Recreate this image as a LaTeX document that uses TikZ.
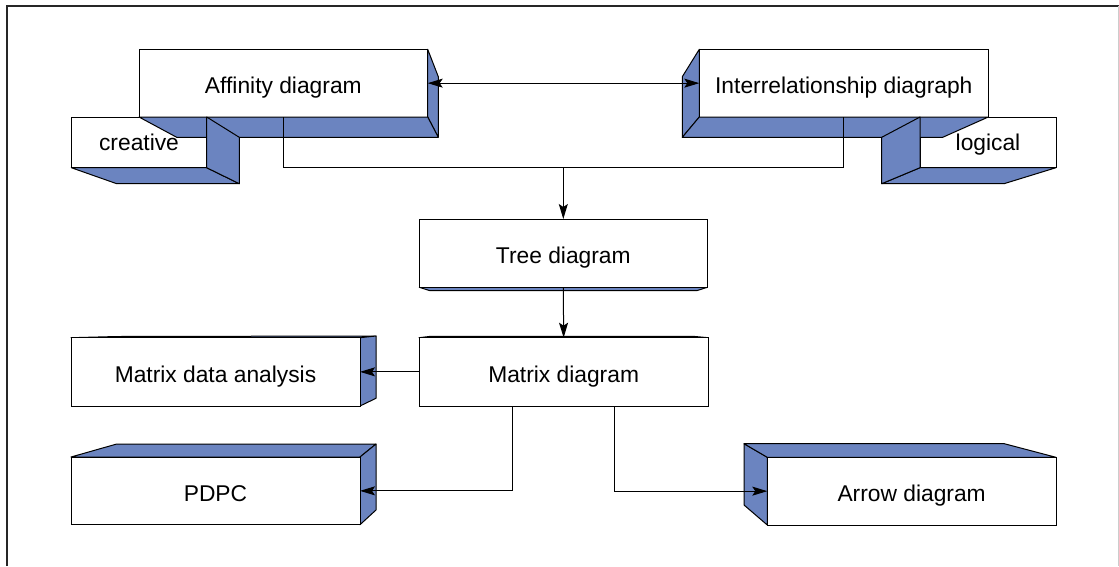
\documentclass[tikz,border=0pt]{standalone}
\usepackage{fontspec}
\setmainfont{Liberation Sans}
\usetikzlibrary{arrows.meta}
\definecolor{faceblue}{RGB}{107,132,192}
\begin{document}
\begin{tikzpicture}[x=1pt,y=-1pt,
  face/.style={fill=faceblue,draw=black,line width=1pt,line join=round},
  frontbox/.style={draw=black,fill=white,line width=1pt,inner sep=0pt,outer sep=0pt,font=\fontsize{22.8}{26}\selectfont,text height=20.4pt,text depth=0pt},
  smallbox/.style={frontbox,text height=15.4pt},
  conn/.style={line width=1pt},
  headarrow/.style={-{Stealth[length=15pt,width=9pt,inset=3pt]}},
  dblhead/.style={{Stealth[length=15pt,width=9pt,inset=3pt]}-{Stealth[length=15pt,width=9pt,inset=3pt]}}
]
\useasboundingbox (0,0) rectangle (1119,566);
% frame
\draw[line width=2pt, black!85] (6.5,566) -- (6.5,5.5) -- (1119,5.5);
\draw[line width=1pt, black!20] (1118.5,5.5) -- (1118.5,566);

% creative (behind affinity)
\node[smallbox, minimum width=135.4pt, minimum height=50.7pt] (cre) at (139,142.35) {creative};
\draw[face] (71.3,167.7) -- (116.7,183.7) -- (239.3,183.7) -- (206.7,167.7) -- cycle;
% affinity
\node[frontbox, minimum width=288.7pt, minimum height=67.7pt] (aff) at (283.35,83.15) {Affinity diagram};
\draw[face] (427.7,49.3) -- (438.3,76.7) -- (438.3,137.3) -- (427.7,117) -- cycle;
\draw[face] (139,117) -- (176.7,137.3) -- (438.3,137.3) -- (427.7,117) -- cycle;
\draw[face] (206.7,117) -- (239.3,137.3) -- (239.3,183.7) -- (206.7,167.7) -- cycle;

% logical (behind interrelationship)
\node[smallbox, minimum width=136pt, minimum height=50.7pt] (log) at (988,142.35) {logical};
\draw[face] (920,167.7) -- (881.7,183.7) -- (1004,183.7) -- (1056,167.7) -- cycle;
% interrelationship
\node[frontbox, minimum width=289pt, minimum height=67.7pt] (inter) at (843.8,83.15) {Interrelationship diagraph};
\draw[face] (699.3,49.3) -- (682.3,76.7) -- (682.3,137.3) -- (699.3,117) -- cycle;
\draw[face] (699.3,117) -- (682.3,137.3) -- (942.7,137.3) -- (988.3,117) -- cycle;
\draw[face] (920,117) -- (881.7,137.3) -- (881.7,183.7) -- (920,167.7) -- cycle;

% tree
\draw[face] (419.3,287.3) -- (430,290.7) -- (696.7,290.7) -- (707.3,287.3) -- cycle;
\node[frontbox, minimum width=288pt, minimum height=68.3pt] (tree) at (563.3,253.15) {Tree diagram};

% matrix
\draw[face] (419,337.7) -- (430,336.4) -- (694,336.4) -- (708.3,337.7) -- cycle;
\node[frontbox, minimum width=289.3pt, minimum height=68.3pt] (mat) at (563.65,371.85) {Matrix diagram};

% matrix data analysis
\draw[face] (71,337.7) -- (116.7,336.5) -- (376,336) -- (360,337.7) -- cycle;
\draw[face] (360,337.7) -- (376,336) -- (376,398.3) -- (360,406) -- cycle;
\node[frontbox, minimum width=289pt, minimum height=68.3pt] (mda) at (215.5,371.85) {Matrix data analysis};

% PDPC
\draw[face] (71,457) -- (116.7,444) -- (376,444) -- (360,457) -- cycle;
\draw[face] (360,457) -- (376,444) -- (376,510) -- (360,524.7) -- cycle;
\node[frontbox, minimum width=289pt, minimum height=67.7pt] (pdpc) at (215.5,490.85) {PDPC};

% arrow diagram
\draw[face] (767.3,457.3) -- (744,443.7) -- (744,505) -- (767.3,525) -- cycle;
\draw[face] (767.3,457.3) -- (744,443.7) -- (1004.3,443.7) -- (1056,457.3) -- cycle;
\node[frontbox, minimum width=288.7pt, minimum height=67.7pt] (arrd) at (911.65,491.15) {Arrow diagram};

% connectors
\coordinate (jn) at (563.3,167.7);
\draw[conn, dblhead] (aff.east) -- (inter.west);
\draw[conn] (aff.south) |- (jn) -| (inter.south);
\draw[conn, headarrow] (jn) -- (tree.north);
\draw[conn, headarrow] (tree.south) -- (mat.north);
\draw[conn, headarrow] (mat.west) -- (mda.east);
\draw[conn, headarrow] ([xshift=-51pt]mat.south) |- (pdpc.east);
\draw[conn, headarrow] ([xshift=51pt]mat.south) |- (arrd.west);
\end{tikzpicture}
\end{document}
